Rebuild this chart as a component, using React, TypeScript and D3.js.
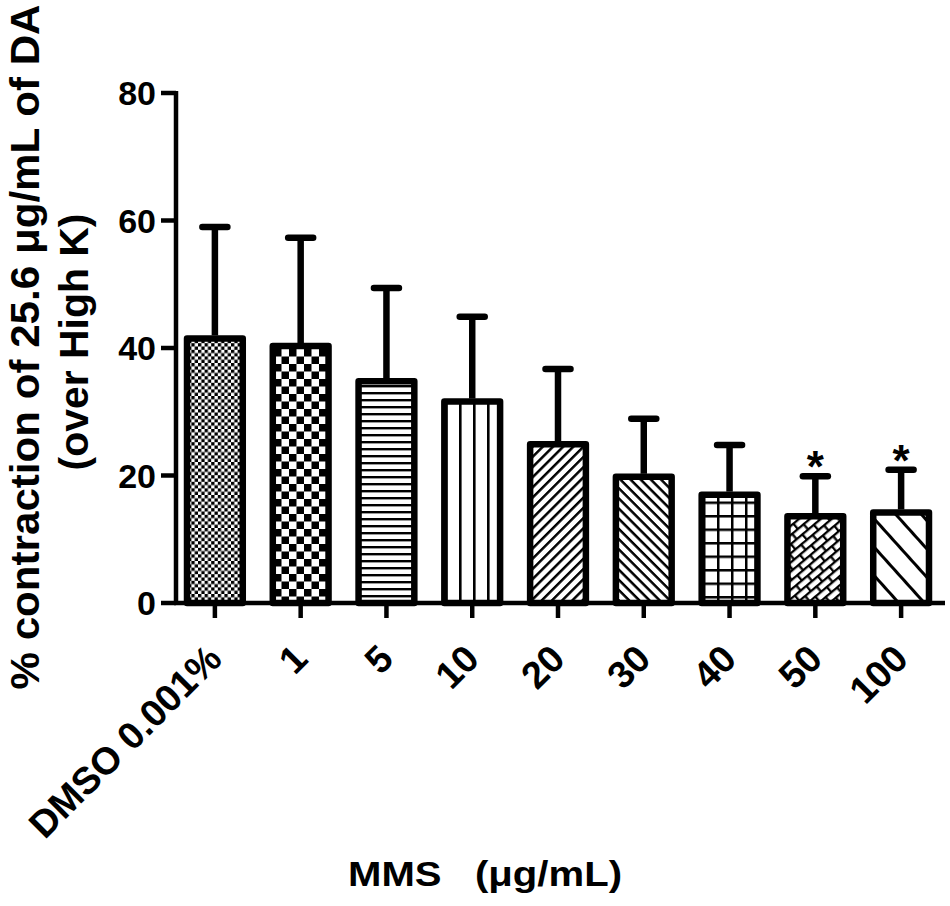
import React from 'react';
import * as d3 from 'd3';

const categories = ['DMSO 0.001%', '1', '5', '10', '20', '30', '40', '50', '100'];
const means = [41.5, 40.3, 34.8, 31.6, 24.9, 19.8, 17.0, 13.6, 14.2];
const errors = [17.5, 17.0, 14.6, 13.3, 11.8, 9.1, 7.8, 6.3, 6.7];
const marks = ['', '', '', '', '', '', '', '*', '*'];
const yTicks = [0, 20, 40, 60, 80];

const FONT = '"Liberation Sans", Arial, Helvetica, sans-serif';

export default function App() {
  const width = 950;
  const height = 906;
  const axisY = 603;
  const axisX = 176;

  const y = d3.scaleLinear().domain([0, 80]).range([axisY, 93]);
  const x = d3.scaleBand<string>()
    .domain(categories)
    .range([172, 944])
    .paddingInner(0.35)
    .paddingOuter(0.175);
  const bw = x.bandwidth();

  const fills = categories.map((_, i) => `url(#pat${i})`);

  return (
    <svg
      width={width}
      height={height}
      style={{ position: 'absolute', left: 0, top: 0, background: '#fff' }}
      fontFamily={FONT}
      fontWeight="bold"
    >
      <defs>
        {/* fine checker */}
        <pattern id="pat0" patternUnits="userSpaceOnUse" width={6.6} height={6.6}>
          <rect width={6.6} height={6.6} fill="#fff" />
          <rect width={3.3} height={3.3} fill="#000" />
          <rect x={3.3} y={3.3} width={3.3} height={3.3} fill="#000" />
        </pattern>
        {/* coarse checker */}
        <pattern id="pat1" patternUnits="userSpaceOnUse" width={15} height={15} x={4} y={4}>
          <rect width={15} height={15} fill="#fff" />
          <rect width={7.5} height={7.5} fill="#000" />
          <rect x={7.5} y={7.5} width={7.5} height={7.5} fill="#000" />
        </pattern>
        {/* horizontal lines */}
        <pattern id="pat2" patternUnits="userSpaceOnUse" width={10} height={7}>
          <rect width={10} height={7} fill="#fff" />
          <rect width={10} height={2.4} fill="#000" />
        </pattern>
        {/* vertical lines */}
        <pattern id="pat3" patternUnits="userSpaceOnUse" width={14} height={10} x={453}>
          <rect width={14} height={10} fill="#fff" />
          <rect x={6} width={2.6} height={10} fill="#000" />
        </pattern>
        {/* forward diagonal */}
        <pattern id="pat4" patternUnits="userSpaceOnUse" width={10} height={7.2} patternTransform="rotate(-45)">
          <rect width={10} height={7.2} fill="#fff" />
          <rect width={10} height={2.5} fill="#000" />
        </pattern>
        {/* back diagonal */}
        <pattern id="pat5" patternUnits="userSpaceOnUse" width={10} height={7.2} patternTransform="rotate(45)">
          <rect width={10} height={7.2} fill="#fff" />
          <rect width={10} height={2.5} fill="#000" />
        </pattern>
        {/* grid */}
        <pattern id="pat6" patternUnits="userSpaceOnUse" width={14} height={13.5} x={3} y={2}>
          <rect width={14} height={13.5} fill="#fff" />
          <rect width={14} height={2.5} fill="#000" />
          <rect width={2.5} height={13.5} fill="#000" />
        </pattern>
        {/* diagonal bricks */}
        <pattern id="pat7" patternUnits="userSpaceOnUse" width={15} height={14} patternTransform="rotate(-40)">
          <rect width={15} height={14} fill="#fff" />
          <rect width={15} height={2.3} fill="#000" />
          <rect y={7} width={15} height={2.3} fill="#000" />
          <rect x={0} width={2.3} height={7} fill="#000" />
          <rect x={7.5} y={7} width={2.3} height={7} fill="#000" />
        </pattern>
        {/* wide back diagonal */}
        <pattern id="pat8" patternUnits="userSpaceOnUse" width={10} height={19} patternTransform="rotate(48)">
          <rect width={10} height={19} fill="#fff" />
          <rect width={10} height={3} fill="#000" />
        </pattern>
      </defs>

      {/* bars */}
      {categories.map((c, i) => {
        const top = y(means[i]);
        return (
          <rect
            key={`bar-${c}`}
            x={x(c)}
            y={top}
            width={bw}
            height={axisY - top}
            fill={fills[i]}
            stroke="#000"
            strokeWidth={6.5}
            strokeLinejoin="round"
          />
        );
      })}

      {/* error bars */}
      {categories.map((c, i) => {
        const cx = (x(c) as number) + bw / 2;
        const top = y(means[i]);
        const cap = y(means[i] + errors[i]);
        return (
          <g key={`err-${c}`} stroke="#000" strokeWidth={6.5}>
            <line x1={cx} x2={cx} y1={top - 3} y2={cap} />
            <line x1={cx - 12.5} x2={cx + 12.5} y1={cap} y2={cap} strokeLinecap="round" />
          </g>
        );
      })}

      {/* significance marks */}
      {categories.map((c, i) =>
        marks[i] ? (
          <text
            key={`mark-${c}`}
            x={(x(c) as number) + bw / 2}
            y={y(means[i] + errors[i]) + 6}
            textAnchor="middle"
            fontSize={44}
          >
            {marks[i]}
          </text>
        ) : null
      )}

      {/* y axis */}
      <line x1={axisX} x2={axisX} y1={y(80) - 2} y2={axisY + 2} stroke="#000" strokeWidth={4.5} />
      {yTicks.map(t => (
        <g key={`yt-${t}`}>
          <line x1={axisX - 15} x2={axisX} y1={y(t)} y2={y(t)} stroke="#000" strokeWidth={4.5} />
          <text x={axisX - 20} y={y(t)} dy="0.36em" textAnchor="end" fontSize={34}>
            {t}
          </text>
        </g>
      ))}

      {/* x axis */}
      <line x1={axisX - 2} x2={945} y1={axisY} y2={axisY} stroke="#000" strokeWidth={4.5} />
      {categories.map(c => {
        const cx = (x(c) as number) + bw / 2;
        return (
          <g key={`xt-${c}`}>
            <line x1={cx} x2={cx} y1={axisY} y2={axisY + 15} stroke="#000" strokeWidth={4.5} />
            <text
              transform={`translate(${cx + 9},${axisY + 58}) rotate(-45)`}
              textAnchor="end"
              fontSize={38}
            >
              {c}
            </text>
          </g>
        );
      })}

      {/* axis titles */}
      <text
        transform="translate(39,347) rotate(-90)"
        textAnchor="middle"
        fontSize={41}
        textLength={685}
        lengthAdjust="spacingAndGlyphs"
      >
        % contraction of 25.6 μg/mL of DA
      </text>
      <text
        transform="translate(88,342) rotate(-90)"
        textAnchor="middle"
        fontSize={41}
        textLength={257}
        lengthAdjust="spacingAndGlyphs"
      >
        (over High K)
      </text>
      <text
        x={485}
        y={886}
        textAnchor="middle"
        fontSize={35}
        style={{ whiteSpace: 'pre' }}
        textLength={274}
        lengthAdjust="spacingAndGlyphs"
      >
        {'MMS   (μg/mL)'}
      </text>
    </svg>
  );
}
